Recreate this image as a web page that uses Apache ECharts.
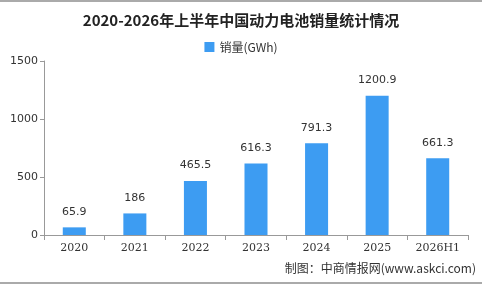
<!DOCTYPE html>
<html>
<head>
<meta charset="utf-8">
<script src="https://cdn.jsdelivr.net/npm/echarts@6/dist/echarts.min.js"></script>
<style>
html, body { margin: 0; padding: 0; background: #fff; }
#main { width: 482px; height: 284px; box-sizing: border-box; border-top: 2px solid #aaa; border-bottom: 2px solid #aaa; }
</style>
</head>
<body>
<div id="main"></div>
<script>
var years = ['2020', '2021', '2022', '2023', '2024', '2025', '2026H1'];
var sales = [65.9, 186, 465.5, 616.3, 791.3, 1200.9, 661.3];
var yTicks = [0, 500, 1000, 1500];

var chart = echarts.init(document.getElementById('main'));
chart.setOption({
	animation: false,
	title: {
		text: '2020-2026年上半年中国动力电池销量统计情况',
		left: 'center',
		top: 6,
		textStyle: { fontFamily: 'Noto Sans CJK SC', fontSize: 15, fontWeight: 'bold', color: '#222' }
	},
	legend: {
		data: ['销量(GWh)'],
		top: 34,
		itemWidth: 10,
		itemHeight: 10,
		icon: 'rect',
		textStyle: { fontFamily: 'Noto Sans CJK SC', fontSize: 12, color: '#333' }
	},
	graphic: [{
		type: 'text',
		right: 6,
		top: 260,
		style: { text: '制图：中商情报网(www.askci.com)', font: '12px "Noto Sans CJK SC"', fill: '#333' }
	}],
	grid: { left: 44, right: 14, top: 59, bottom: 47 },
	xAxis: {
		type: 'category',
		data: years,
		axisLine: { lineStyle: { color: '#999' } },
		axisTick: { show: true, length: 5, lineStyle: { color: '#999' } },
		axisLabel: { color: '#333', fontSize: 11, margin: 8, fontFamily: 'DejaVu Serif' }
	},
	yAxis: {
		type: 'value',
		min: yTicks[0],
		max: yTicks[yTicks.length - 1],
		interval: 500,
		axisLine: { show: true, lineStyle: { color: '#999' } },
		axisTick: { show: true, length: 4, lineStyle: { color: '#999' } },
		splitLine: { show: false },
		axisLabel: {
			color: '#333', fontSize: 11, margin: 6, fontFamily: 'DejaVu Sans',
			formatter: function (v) { return String(v); }
		}
	},
	series: [{
		name: '销量(GWh)',
		type: 'bar',
		data: sales,
		barWidth: '38%',
		itemStyle: { color: '#3d9cf2' },
		label: { show: true, position: 'top', distance: 10, color: '#333', fontSize: 11, fontFamily: 'DejaVu Sans' }
	}]
});
</script>
</body>
</html>
